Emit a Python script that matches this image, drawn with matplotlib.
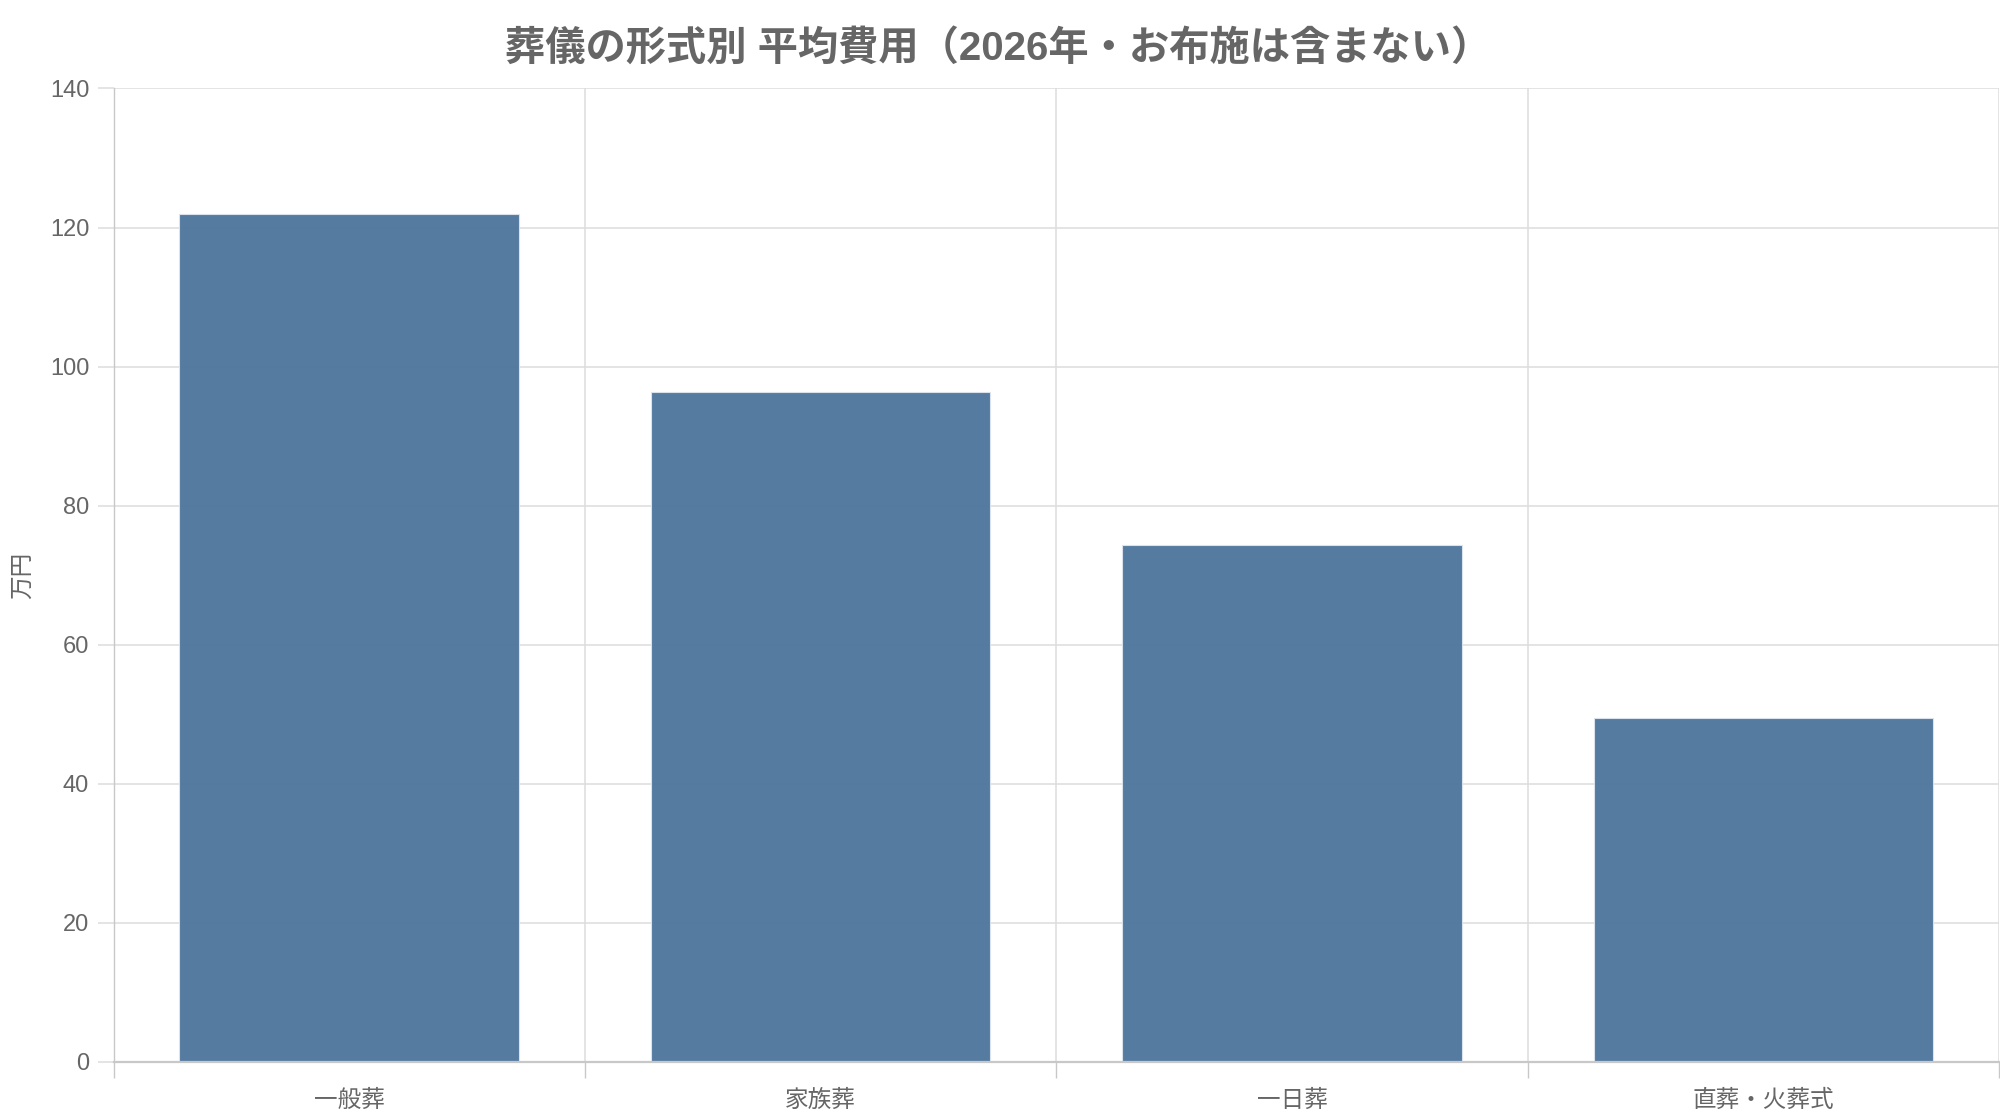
import numpy as np
import matplotlib
matplotlib.use("Agg")
from matplotlib import pyplot as plt
from matplotlib.ticker import FixedLocator

# データ
categories = ["一般葬", "家族葬", "一日葬", "直葬・火葬式"]
costs = [122.0, 96.4, 74.4, 49.5]
y_ticks = [0, 20, 40, 60, 80, 100, 120, 140]

plt.rcParams["font.family"] = ["Liberation Sans", "Noto Sans CJK JP", "DejaVu Sans"]

text_color = "#666666"
grid_color = "#dddddd"
axis_color = "#c8c8c8"
bar_color = "#4c749c"

fig = plt.figure(figsize=(20, 11.2), dpi=100)
ax = fig.add_axes([0.05675, 0.0518, 0.9428, 0.8692])

x = np.arange(len(categories))
ax.bar(x, costs, width=0.72, color=bar_color, alpha=0.95,
       edgecolor="#dde6ef", linewidth=0.8, zorder=3)

ax.set_xlim(-0.5, len(categories) - 0.5)
ax.set_ylim(0, 140)

# 目盛り
ax.set_yticks(y_ticks)
ax.set_xticks(x)
ax.set_xticklabels(categories)
ax.xaxis.set_minor_locator(FixedLocator(np.arange(-0.5, len(categories), 1.0)))

ax.tick_params(axis="x", which="major", length=0, pad=20, labelsize=17, labelcolor=text_color)
ax.tick_params(axis="x", which="minor", length=11.5, width=1.0, color=axis_color)
ax.tick_params(axis="y", which="major", length=11.5, width=1.1, color=grid_color,
               pad=6, labelsize=17, labelcolor=text_color)

# グリッド
ax.grid(axis="y", which="major", color=grid_color, linewidth=1.1, zorder=0)
ax.grid(axis="x", which="minor", color=grid_color, linewidth=1.1, zorder=0)
ax.set_axisbelow(True)

for side in ["top", "right"]:
    ax.spines[side].set_visible(False)
ax.spines["left"].set_color(axis_color)
ax.spines["left"].set_linewidth(1.0)
ax.spines["bottom"].set_color(axis_color)
ax.spines["bottom"].set_linewidth(1.6)
ax.spines["bottom"].set_zorder(4)

fig.text(0.0113, 0.486, "万円", rotation=90, ha="center", va="center",
         fontsize=17, color=text_color)

fig.text(0.4993, 0.957, "葬儀の形式別 平均費用（2026年・お布施は含まない）",
         ha="center", va="center", fontsize=29, fontweight="bold", color=text_color)

plt.savefig("out.png", dpi=100, facecolor="white")
plt.close()
